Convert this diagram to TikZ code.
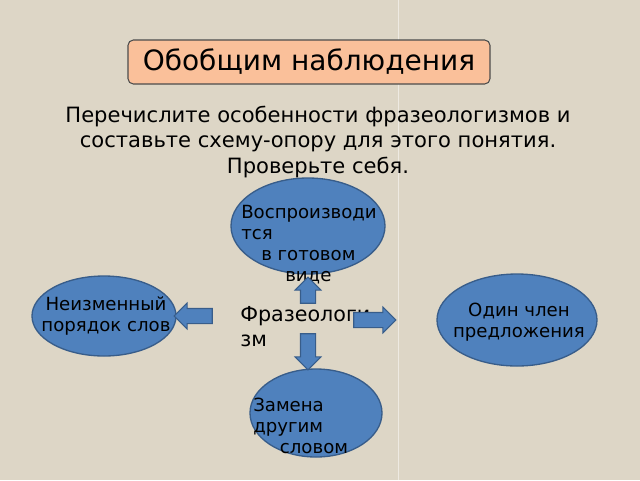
\documentclass[tikz,border=0pt]{standalone}
\usepackage{fontspec}
\setmainfont{DejaVu Sans}
\usetikzlibrary{shapes.geometric,shapes.arrows}
\definecolor{bg}{HTML}{DDD6C6}
\definecolor{peach}{HTML}{FAC09A}
\definecolor{blu}{HTML}{4F81BD}
\definecolor{bluedge}{HTML}{385D8A}
\begin{document}
\begin{tikzpicture}[x=0.75pt,y=-0.75pt,
  oval/.style={ellipse,fill=blu,draw=bluedge,line width=1pt,inner sep=0pt},
  otext/.style={font=\fontsize{13.6}{15.8}\selectfont,align=left,inner sep=0pt},
  barrow/.style={single arrow,fill=blu,draw=bluedge,line width=0.8pt,single arrow head extend=4pt,inner xsep=0pt,inner ysep=5.25pt,minimum height=#1}]
\fill[bg] (0,0) rectangle (640,480);
\useasboundingbox (0,0) rectangle (640,480);
\draw[white,opacity=0.5] (398,0) -- (398,480);
\node[draw=black!70,fill=peach,rounded corners=4pt,line width=0.8pt,minimum width=362*0.75pt,minimum height=44*0.75pt,font=\fontsize{21}{24}\selectfont] (title) at (309,62) {Обобщим наблюдения};
\node[align=center,font=\fontsize{15.8}{19}\selectfont] (task) at (318,142) {Перечислите особенности фразеологизмов и\\составьте схему-опору для этого понятия.\\Проверьте себя.};
\node[oval,minimum width=154*0.75pt,minimum height=96*0.75pt] (top) at (308,226) {};
\node[oval,minimum width=144*0.75pt,minimum height=80*0.75pt] (left) at (104,316) {};
\node[oval,minimum width=160*0.75pt,minimum height=92*0.75pt] (right) at (517,320) {};
\node[oval,minimum width=132*0.75pt,minimum height=88*0.75pt] (bottom) at (316,413) {};
\node[otext,anchor=north west] (toptext) at (241,205) {Воспроизводи\\тся\\\hspace*{15pt}в готовом\\\hspace*{33pt}виде};
\node[otext,align=center] (lefttext) at (106,316) {Неизменный\\порядок слов};
\node[otext,align=center] (righttext) at (519,322) {Один член\\предложения};
\node[otext,anchor=north west] (bottext) at (253,398) {Замена\\другим\\\hspace*{20pt}словом};
\node[anchor=north west,align=left,inner sep=0pt,font=\fontsize{15.5}{19}\selectfont] (center) at (240,306) {Фразеологи\\зм};
\node[barrow=26*0.75pt,rotate=90] (aup) at (308,294) {};
\node[barrow=38*0.75pt,rotate=180] (aleft) at (197,316) {};
\node[barrow=42*0.75pt] (aright) at (371,320) {};
\node[barrow=36*0.75pt,rotate=-90] (adown) at (308,348) {};
\end{tikzpicture}
\end{document}
